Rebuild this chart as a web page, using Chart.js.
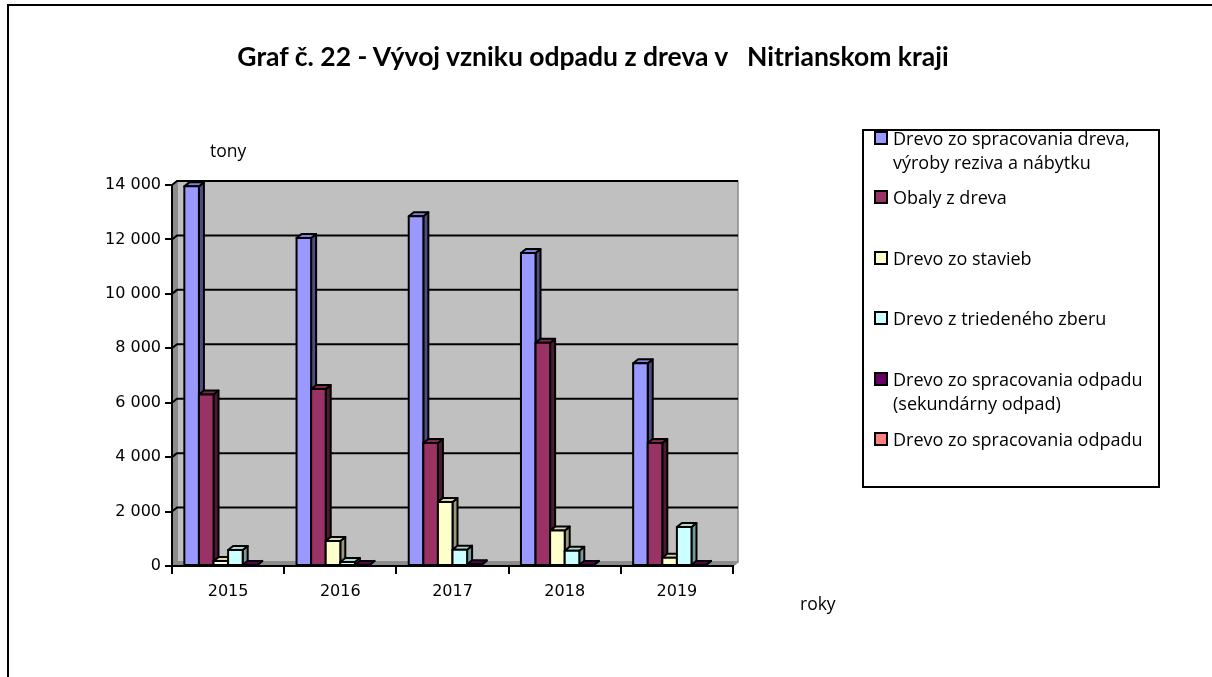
<!DOCTYPE html>
<html>
<head>
<meta charset="utf-8">
<title>Graf č. 22</title>
<script src="https://cdn.jsdelivr.net/npm/chart.js"></script>
<style>
body{margin:0;background:#fff;}
#wrap{position:relative;width:1212px;height:677px;overflow:hidden;font-family:"Open Sans",Lato,sans-serif;color:#000;}
#frame{position:absolute;left:7px;top:4px;width:1300px;height:800px;border-left:2px solid #000;border-top:2px solid #000;}
#title{position:absolute;left:593px;top:40px;transform:translateX(-50%);font-family:Lato,sans-serif;font-weight:bold;font-size:26.5px;white-space:pre;}
.axt{position:absolute;font-size:17.5px;}
#legend{position:absolute;left:862px;top:129px;width:294px;height:355px;border:2px solid #000;}
.li{position:absolute;left:29px;font-size:18px;line-height:24px;white-space:pre;}
.sq{position:absolute;left:-19px;top:5px;width:10px;height:10px;border:2px solid #000;}
</style>
</head>
<body>
<div id="wrap">
  <div id="frame"></div>
  <canvas id="chart" width="1212" height="677" style="position:absolute;left:0;top:0"></canvas>
  <div id="title">Graf č. 22 - Vývoj vzniku odpadu z dreva v   Nitrianskom kraji</div>
  <div class="axt" id="ytitle" style="left:210px;top:138px">tony</div>
  <div class="axt" id="xtitle" style="left:800px;top:591px">roky</div>
  <div id="legend"></div>
</div>
<script>
// roky
const years = ['2015','2016','2017','2018','2019'];

// nazvy serii (\n = zalomenie v legende)
const seriesNames = [
  'Drevo zo spracovania dreva,\nvýroby reziva a nábytku',
  'Obaly z dreva',
  'Drevo zo stavieb',
  'Drevo z triedeného zberu',
  'Drevo zo spracovania odpadu\n(sekundárny odpad)',
  'Drevo zo spracovania odpadu'
];

// hodnoty v tonach (odcitane z grafu)
const drevoSpracovanie = [13950, 12050, 12850, 11500, 7450];
const obalyDreva       = [6300, 6500, 4520, 8200, 4520];
const drevoStavby      = [180, 920, 2350, 1300, 300];
const drevoTriedeny    = [590, 150, 600, 560, 1430];
const drevoSekundarny  = [40, 40, 60, 40, 40];
const drevoOdpad       = [0, 0, 0, 0, 0];

const yTicks = [0, 2000, 4000, 6000, 8000, 10000, 12000, 14000];

const frontColors = ['#9999ff','#993366','#ffffcc','#ccffff','#660066','#ff8080'];
const sideColors  = ['#4d4d80','#4d1a33','#999977','#7a9999','#330033','#804040'];
const topColors   = ['#8080d9','#80294f','#d9d9ad','#add9d9','#550055','#d96b6b'];

const DX = 5, DY = 4; // hlbka 3D

function poly(ctx, pts, fill){
  ctx.beginPath();
  ctx.moveTo(pts[0][0], pts[0][1]);
  for (let k = 1; k < pts.length; k++) ctx.lineTo(pts[k][0], pts[k][1]);
  ctx.closePath();
  ctx.fillStyle = fill;
  ctx.fill();
  ctx.stroke();
}

const wall3d = {
  id: 'wall3d',
  beforeDraw(chart){
    const ctx = chart.ctx, a = chart.chartArea, y = chart.scales.y;
    ctx.save();
    ctx.lineJoin = 'round';
    ctx.strokeStyle = '#8a8a8a';
    ctx.lineWidth = 1.5;
    // zadna stena
    ctx.fillStyle = '#c0c0c0';
    ctx.fillRect(a.left + DX, a.top - DY, a.right - a.left, a.bottom - a.top);
    ctx.strokeRect(a.left + DX, a.top - DY, a.right - a.left, a.bottom - a.top);
    // lava stena a podlaha
    poly(ctx, [[a.left, a.top],[a.left + DX, a.top - DY],[a.left + DX, a.bottom - DY],[a.left, a.bottom]], '#8c8c8c');
    poly(ctx, [[a.left, a.bottom],[a.left + DX, a.bottom - DY],[a.right + DX, a.bottom - DY],[a.right, a.bottom]], '#8c8c8c');
    // mriezka
    ctx.strokeStyle = '#000';
    ctx.lineWidth = 2;
    y.ticks.forEach(t => {
      if (t.value === 0) return;
      const py = y.getPixelForValue(t.value);
      ctx.beginPath();
      ctx.moveTo(a.left, py);
      ctx.lineTo(a.left + DX, py - DY);
      ctx.lineTo(a.right + DX, py - DY);
      ctx.stroke();
    });
    ctx.restore();
  },
  afterDatasetsDraw(chart){
    const ctx = chart.ctx;
    ctx.save();
    ctx.strokeStyle = '#000';
    ctx.lineWidth = 2;
    ctx.lineJoin = 'round';
    chart.data.datasets.forEach((ds, i) => {
      const meta = chart.getDatasetMeta(i);
      meta.data.forEach((bar, j) => {
        if (!ds.data[j]) return;
        const p = bar.getProps(['x','y','base','width'], true);
        const x1 = p.x - p.width/2, x2 = p.x + p.width/2;
        poly(ctx, [[x2,p.y],[x2+DX,p.y-DY],[x2+DX,p.base-DY],[x2,p.base]], sideColors[i]);
        poly(ctx, [[x1,p.y],[x1+DX,p.y-DY],[x2+DX,p.y-DY],[x2,p.y]], topColors[i]);
        poly(ctx, [[x1,p.y],[x2,p.y],[x2,p.base],[x1,p.base]], frontColors[i]);
      });
    });
    ctx.restore();
  }
};

const allSeries = [drevoSpracovanie, obalyDreva, drevoStavby, drevoTriedeny, drevoSekundarny, drevoOdpad];

const chart = new Chart(document.getElementById('chart'), {
  type: 'bar',
  data: {
    labels: years,
    datasets: allSeries.map((d, i) => ({
      label: seriesNames[i],
      data: d,
      backgroundColor: 'rgba(0,0,0,0)',
      borderWidth: 0,
      barPercentage: 1,
      categoryPercentage: 0.78
    }))
  },
  options: {
    responsive: false,
    animation: false,
    layout: { padding: { left: 0, right: 479, top: 185, bottom: 0 } },
    plugins: { legend: { display: false }, tooltip: { enabled: false }, title: { display: false } },
    scales: {
      x: {
        afterFit: s => { s.height = 111; },
        grid: { offset: true, drawOnChartArea: false, drawTicks: true, tickLength: 8, color: '#000', lineWidth: 2 },
        border: { display: true, color: '#000', width: 2 },
        ticks: { color: '#000', padding: 8, font: { family: '"DejaVu Sans", Verdana', size: 16 } }
      },
      y: {
        min: 0, max: 14000,
        afterFit: s => { s.width = 172; },
        afterBuildTicks: s => { s.ticks = yTicks.map(v => ({ value: v })); },
        grid: { drawOnChartArea: false, drawTicks: true, tickLength: 7, color: '#000', lineWidth: 2 },
        border: { display: true, color: '#000', width: 2 },
        ticks: {
          color: '#000', padding: 4,
          font: { family: '"DejaVu Sans", Verdana', size: 16 },
          callback: v => String(v).replace(/\B(?=(\d{3})+(?!\d))/g, ' ')
        }
      }
    }
  },
  plugins: [wall3d]
});

// legenda
const legend = document.getElementById('legend');
const itemTops = [-5, 54, 115, 175, 236, 296];
chart.data.datasets.forEach((ds, i) => {
  const li = document.createElement('div');
  li.className = 'li';
  li.style.top = itemTops[i] + 'px';
  li.textContent = ds.label;
  const sq = document.createElement('span');
  sq.className = 'sq';
  sq.style.background = frontColors[i];
  li.appendChild(sq);
  legend.appendChild(li);
});
</script>
</body>
</html>
